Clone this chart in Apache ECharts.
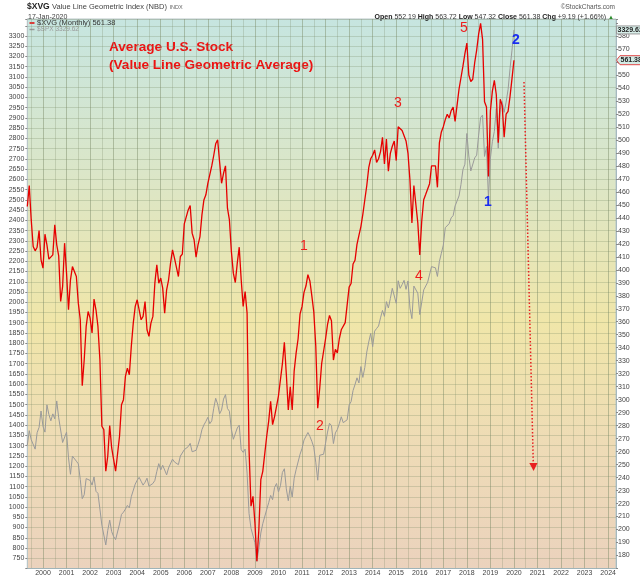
<!DOCTYPE html>
<html><head><meta charset="utf-8">
<script src="https://cdn.jsdelivr.net/npm/echarts@6.0.0/dist/echarts.min.js"></script>
<style>html,body{margin:0;padding:0;background:#fff}#c{width:640px;height:576px}</style>
</head><body><div id="c"></div>
<script>
// Monthly categories May 1999 .. May 2024
const startYear = 1999, startMonth = 5, monthCount = 301;
const months = [];
for (let i = 0; i < monthCount; i++) {
  const k = startMonth - 1 + i;
  const y = startYear + Math.floor(k / 12);
  const m = (k % 12) + 1;
  months.push(y + '-' + (m < 10 ? '0' + m : '' + m));
}
// $SPX monthly closes (left axis), May 1999 .. Jan 2020
const spx = [1302,1373,1329,1320,1283,1363,1389,1469,
 1394,1366,1499,1452,1421,1455,1431,1518,1436,1429,1315,1320,
 1366,1240,1160,1249,1256,1224,1211,1134,1041,1060,1139,1148,
 1130,1107,1147,1077,1067,990,912,916,815,886,936,880,
 856,841,848,917,964,975,990,1008,996,1051,1058,1112,
 1131,1145,1126,1107,1121,1141,1102,1104,1115,1130,1174,1212,
 1181,1204,1181,1157,1191,1191,1234,1220,1229,1207,1249,1248,
 1280,1281,1295,1311,1270,1270,1277,1304,1336,1378,1401,1418,
 1438,1407,1421,1482,1531,1503,1455,1474,1527,1549,1481,1468,
 1379,1331,1323,1386,1400,1280,1267,1283,1166,969,896,903,
 826,735,798,873,919,919,988,1021,1057,1036,1096,1115,
 1074,1104,1169,1187,1089,1031,1102,1049,1141,1183,1181,1258,
 1286,1327,1326,1364,1345,1321,1292,1219,1131,1253,1247,1258,
 1312,1366,1409,1398,1310,1362,1379,1407,1441,1412,1416,1426,
 1498,1515,1569,1598,1631,1606,1686,1633,1682,1757,1806,1848,
 1783,1859,1872,1884,1924,1960,1931,2003,1972,2018,2068,2059,
 1995,2105,2068,2086,2107,2063,2104,1972,1920,2079,2080,2044,
 1940,1932,2060,2065,2097,2099,2174,2171,2168,2126,2199,2239,
 2279,2364,2363,2384,2412,2423,2470,2472,2519,2575,2648,2674,
 2824,2714,2641,2648,2705,2718,2816,2902,2914,2712,2760,2507,
 2704,2784,2834,2946,2752,2942,2980,2927,2977,3038,3141,3231,
 3329.62];
// $XVG monthly (right axis), May 1999 .. Jan 2020
const xvg = [448.7,464.8,438.4,417.9,414.6,417.4,430.2,407.7,
 401.3,427.4,419.2,408.2,407.7,411.5,434.6,419.2,410.7,375.6,387.2,420.5,
 397.4,369.2,392.3,402.5,401.3,394.8,374.3,361.5,310.7,330.7,356.4,367.9,
 362.8,351.3,377.4,369.2,356.4,330.7,279.5,276.9,244.9,256.4,280.0,262.8,
 253.8,244.9,244.9,271.8,296.1,300.0,317.9,324.3,319.2,341.0,358.9,371.8,
 376.9,375.6,361.5,364.1,375.6,353.8,348.7,358.9,364.1,389.7,403.8,389.7,
 393.6,385.9,366.6,384.6,392.3,405.1,415.4,409.0,410.2,394.8,410.2,412.0,
 435.4,435.9,446.1,449.5,428.2,423.1,409.7,419.2,425.6,442.3,453.8,457.7,
 466.6,467.4,480.0,488.0,497.0,500.0,483.0,466.6,474.3,480.0,447.4,438.4,
 414.1,397.4,390.2,405.1,417.4,392.3,371.8,383.3,366.6,261.5,218.0,225.6,
 205.1,175.6,200.0,238.4,244.8,244.8,271.8,283.3,298.7,280.8,287.0,294.8,
 303.0,303.0,327.7,344.2,319.5,292.0,309.9,292.0,322.2,336.0,346.9,366.1,
 371.6,382.6,387.5,396.3,391.4,379.9,367.5,341.4,293.4,308.5,327.7,326.3,
 346.9,357.9,364.8,360.7,330.5,338.7,336.0,346.9,353.8,352.4,359.3,373.0,
 386.7,389.4,404.5,407.3,419.6,426.5,433.3,442.9,453.9,464.9,478.6,485.5,
 488.2,492.3,482.7,485.5,491.0,502.0,481.4,500.6,475.9,489.6,495.1,499.2,
 484.1,510.2,509.4,507.2,506.1,499.2,489.6,469.0,436.1,464.9,464.9,436.1,
 411.4,437.5,453.9,458.0,458.0,466.3,480.0,481.4,480.0,463.5,497.8,506.1,
 510.2,515.6,519.8,517.0,522.5,525.3,514.3,526.6,539.0,540.3,556.8,566.4,
 574.6,550.0,545.0,546.7,559.6,569.2,581.5,589.7,577.4,529.4,525.3,471.8,
 522.5,537.6,545.8,534.9,497.8,531.3,526.6,502.0,519.8,522.0,533.5,547.2,
 561.38];
const xvgLast = '561.38', spxLast = '3329.62';
const waveRed = [['5',464,28.5],['3',398,103],['1',304,246],['2',320,426],['4',419,276]];
const waveBlue = [['1',488,202],['2',516,40]];

const FF = '"Liberation Sans", Arial, sans-serif';
const chart = echarts.init(document.getElementById('c'), null, {renderer:'canvas'});

const graphics = [];
// header
graphics.push({id:'h1', type:'text', x:27, y:7, style:{text:'$XVG', fill:'#222', font:'bold 8.5px '+FF, verticalAlign:'middle'}});
graphics.push({id:'h2', type:'text', x:52, y:7, style:{text:'Value Line Geometric Index (NBD)', fill:'#444', font:'7.5px '+FF, verticalAlign:'middle'}});
graphics.push({id:'h3', type:'text', x:169.5, y:7.5, style:{text:'INDX', fill:'#666', font:'5.5px '+FF, verticalAlign:'middle'}});
graphics.push({id:'h4', type:'text', x:28, y:17.5, style:{text:'17-Jan-2020', fill:'#444', font:'7px '+FF, verticalAlign:'middle'}});
graphics.push({id:'h5', type:'text', x:615, y:7, style:{text:'©StockCharts.com', fill:'#555', font:'6.5px '+FF, align:'right', verticalAlign:'middle'}});
graphics.push({id:'h6', type:'text', x:614, y:17.5, style:{
  text:'{b|Open} 552.19 {b|High} 563.72 {b|Low} 547.32 {b|Close} 561.38 {b|Chg} +9.19 (+1.66%) {g|▲}',
  fill:'#333', font:'7px '+FF, align:'right', verticalAlign:'middle',
  rich:{b:{fontWeight:'bold', fontSize:7, fontFamily:FF, fill:'#222'}, g:{fill:'#2a8a2a', fontSize:6}}}});
// legend
graphics.push({id:'l1', type:'line', shape:{x1:29.5,y1:23,x2:34.5,y2:23}, style:{stroke:'#e60000', lineWidth:1.5}});
graphics.push({id:'l2', type:'text', x:37, y:23, style:{text:'$XVG (Monthly) 561.38', fill:'#333', font:'7.5px '+FF, verticalAlign:'middle'}});
graphics.push({id:'l3', type:'line', shape:{x1:29.5,y1:29.5,x2:34.5,y2:29.5}, style:{stroke:'#999', lineWidth:1.5}});
graphics.push({id:'l4', type:'text', x:37, y:29.5, style:{text:'$SPX 3329.62', fill:'#999', font:'6.5px '+FF, verticalAlign:'middle'}});
// title
graphics.push({id:'t1', type:'text', x:109, y:47.5, style:{text:'Average U.S. Stock', fill:'#ee1111', font:'bold 13.6px '+FF, verticalAlign:'middle'}});
graphics.push({id:'t2', type:'text', x:109, y:65, style:{text:'(Value Line Geometric Average)', fill:'#ee1111', font:'bold 13.6px '+FF, verticalAlign:'middle'}});
// wave labels
waveRed.forEach((w,i)=>graphics.push({id:'wr'+i, type:'text', x:w[1], y:w[2], z:10, style:{text:w[0], fill:'#ee1c1c', font:'14px '+FF, align:'center', verticalAlign:'middle'}}));
waveBlue.forEach((w,i)=>graphics.push({id:'wb'+i, type:'text', x:w[1], y:w[2], z:10, style:{text:w[0], fill:'#1a2cf0', font:'bold 14px '+FF, align:'center', verticalAlign:'middle'}}));
// dotted arrow
graphics.push({id:'a1', type:'line', z:10, shape:{x1:524,y1:82,x2:533.3,y2:464}, style:{stroke:'#e82020', lineWidth:1.5, lineDash:[1.5,2]}});
graphics.push({id:'a2', type:'polygon', z:10, shape:{points:[[529.3,463],[537.5,463],[533.6,471]]}, style:{fill:'#e82020'}});

const option = {
  animation:false,
  backgroundColor:'#ffffff',
  textStyle:{fontFamily:FF},
  grid:{left:27.3, right:24, top:19, height:549.5, show:true, outerBoundsMode:'none', containLabel:false,
    borderColor:'#b9c6c8', borderWidth:1,
    backgroundColor:new echarts.graphic.LinearGradient(0,0,0,1,[
      {offset:0,color:'#c6e5e0'},{offset:0.28,color:'#dbe6c8'},{offset:0.55,color:'#f0e6a9'},
      {offset:0.78,color:'#eedbb6'},{offset:1,color:'#ebd2bd'}])},
  xAxis:[{
    type:'category', data:months, boundaryGap:false,
    axisLine:{show:true, lineStyle:{color:'#9fb4bb', type:'dotted'}},
    axisTick:{show:false},
    axisLabel:{interval:(i,v)=>v.endsWith('-01'), formatter:v=>v.slice(0,4), fontSize:7, color:'#444', margin:1, lineHeight:7, fontFamily:FF},
    splitLine:{show:true, interval:(i,v)=>v.endsWith('-01'), lineStyle:{color:'rgba(120,135,100,0.45)', width:1}}
  },{
    type:'category', data:months, boundaryGap:false, position:'bottom',
    axisLine:{show:false}, axisTick:{show:false}, axisLabel:{show:false},
    splitLine:{show:true, interval:(i,v)=>v.endsWith('-07'), lineStyle:{color:'rgba(120,135,100,0.26)', width:1}}
  }],
  yAxis:[{
    type:'value', position:'left', min:700, max:3383, interval:50,
    axisLine:{show:true, lineStyle:{color:'#b9c6c8'}},
    axisTick:{show:true, length:2, lineStyle:{color:'#888'}},
    axisLabel:{fontSize:7, color:'#444', margin:3, fontFamily:FF, formatter:v=>(v<750||v>3300)?'':String(v)},
    splitLine:{show:true, lineStyle:{color:'rgba(120,135,100,0.27)', width:1}}
  },{
    type:'value', position:'right', min:170, max:593.1, interval:10,
    axisLine:{show:true, lineStyle:{color:'#9fb4bb', type:'dotted'}},
    axisTick:{show:true, length:2, lineStyle:{color:'#888'}},
    axisLabel:{fontSize:7, color:'#444', margin:2, fontFamily:FF, formatter:v=>(v<180||v>580)?'':String(v)},
    splitLine:{show:false}
  }],
  series:[{
    name:'$SPX', type:'line', xAxisIndex:0, yAxisIndex:0, data:spx, showSymbol:false, symbol:'none',
    lineStyle:{color:'#9a9a9a', width:1}, itemStyle:{color:'#9a9a9a'}, z:2
  },{
    name:'$XVG', type:'line', xAxisIndex:0, yAxisIndex:1, data:xvg, showSymbol:false, symbol:'none',
    lineStyle:{color:'#e60000', width:1.3}, itemStyle:{color:'#e60000'}, z:3
  }],
  graphic:graphics
};
chart.setOption(option);

// last-value boxes on the axes
const yR = chart.convertToPixel({yAxisIndex:1}, parseFloat(xvgLast));
const yL = Math.max(23, chart.convertToPixel({yAxisIndex:0}, parseFloat(spxLast)));
chart.setOption({graphic:[
  {id:'vb1', type:'polygon', z:20, shape:{points:[[616.5,yR],[620,yR-4.5],[641,yR-4.5],[641,yR+4.5],[620,yR+4.5]]}, style:{fill:'#d3ebe5', stroke:'#e04848', lineWidth:1}},
  {id:'vt1', type:'text', z:21, x:620.5, y:yR, style:{text:xvgLast, fill:'#222', font:'bold 7px '+FF, verticalAlign:'middle'}},
  {id:'vb2', type:'rect', z:20, shape:{x:616.5, y:yL-4, width:25, height:8}, style:{fill:'#d6ede8', stroke:'#9a9a9a', lineWidth:1}},
  {id:'vt2', type:'text', z:21, x:617.5, y:yL, style:{text:spxLast, fill:'#222', font:'bold 7px '+FF, verticalAlign:'middle'}}
]});
</script></body></html>
